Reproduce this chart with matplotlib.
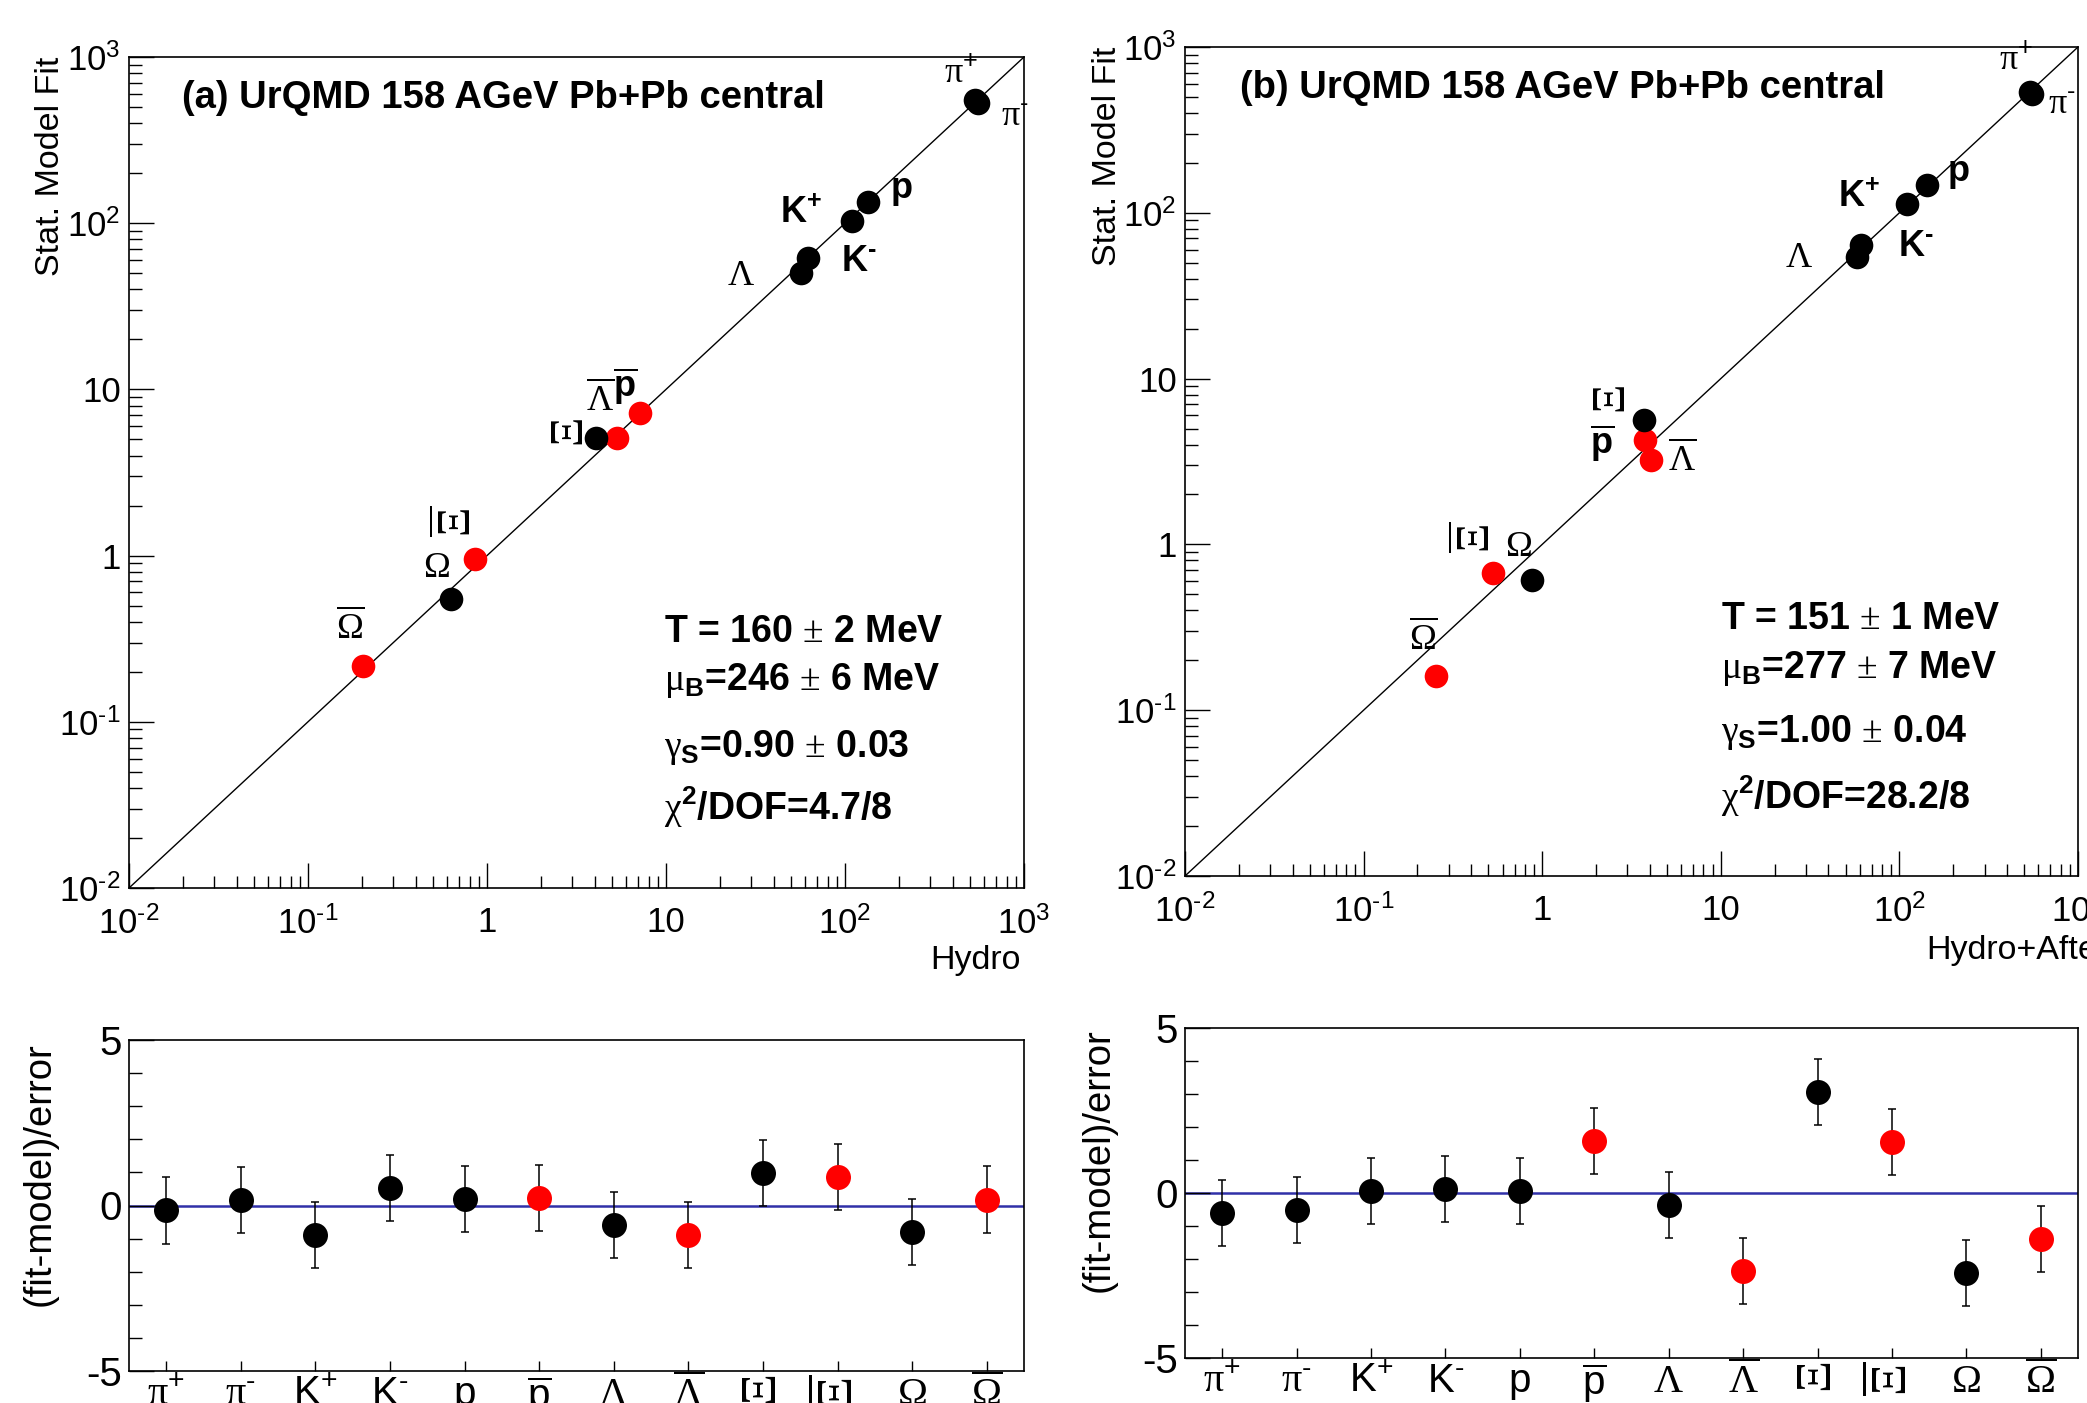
import matplotlib
matplotlib.use('Agg')
import matplotlib.pyplot as plt
from matplotlib import font_manager
from matplotlib.ticker import LogLocator, NullFormatter, MultipleLocator

# ── Fonts ──────────────────────────────────────────────────────
installed = {f.name for f in font_manager.fontManager.ttflist}
NARROW = 'Liberation Sans Narrow' if 'Liberation Sans Narrow' in installed else 'Liberation Sans'
plt.rcParams['font.family'] = 'Liberation Sans'
plt.rcParams['mathtext.fontset'] = 'custom'
plt.rcParams['mathtext.rm'] = 'Liberation Serif'
plt.rcParams['mathtext.it'] = 'Liberation Serif:italic'
plt.rcParams['mathtext.bf'] = 'Liberation Sans:bold'
plt.rcParams['mathtext.sf'] = 'Liberation Sans'
plt.rcParams['mathtext.default'] = 'regular'

HY = '\u2010'  # short dash used by ROOT for "minus" superscripts

# ── Data ───────────────────────────────────────────────────────
# order: pi+, pi-, K+, K-, p, pbar, Lambda, Lambdabar, Xi, Xibar, Omega, Omegabar
IS_ANTI = [False, False, False, False, False, True, False, True, False, True, False, True]

# (a) Hydro vs stat. model fit
HYDRO_A = [535, 552, 109, 62, 134, 7.13, 57, 5.3, 4.09, 0.859, 0.63, 0.202]
FIT_A = [548, 530, 103, 62, 135, 7.21, 50, 5.1, 5.1, 0.954, 0.548, 0.218]
# (b) Hydro+Afterburner vs stat. model fit
HYDRO_B = [538, 555, 110, 61, 143, 3.74, 58, 4.06, 3.72, 0.53, 0.877, 0.254]
FIT_B = [535, 520, 113, 64, 147, 4.26, 54, 3.23, 5.62, 0.672, 0.61, 0.161]

# residuals (fit-model)/error
RESID_A = [-0.15, 0.17, -0.90, 0.54, 0.19, 0.23, -0.60, -0.89, 0.97, 0.87, -0.80, 0.18]
RESID_B = [-0.61, -0.51, 0.05, 0.12, 0.05, 1.57, -0.37, -2.35, 3.07, 1.54, -2.41, -1.38]
RESID_ERR_A = [1.0, 1.0, 1.0, 1.0, 1.0, 1.0, 1.0, 1.0, 1.0, 1.0, 1.0, 1.0]
RESID_ERR_B = [1.0, 1.0, 1.0, 1.0, 1.0, 1.0, 1.0, 1.0, 1.0, 1.0, 1.0, 1.0]

CAT_LABELS = [r'$\mathrm{\pi}^{+}$', r'$\mathrm{\pi}^{' + HY + '}$', r'$K^{+}$', r'$K^{' + HY + '}$', 'p',
              r'$\overline{p}$', r'$\mathrm{\Lambda}$', r'$\overline{\mathrm{\Lambda}}$',
              r'$\mathrm{\Xi}$', r'$\overline{\mathrm{\Xi}}$', r'$\mathrm{\Omega}$',
              r'$\overline{\mathrm{\Omega}}$']

DECADES = [1e-2, 1e-1, 1, 10, 1e2, 1e3]
DECADE_LABELS = [r'$10^{' + HY + '2}$', r'$10^{' + HY + '1}$', '1', '10', r'$10^{2}$', r'$10^{3}$']

FIT_TEXT_A = [r'T = 160 $\mathrm{\pm}$ 2 MeV', r'$\mathrm{\mu}_{B}$=246 $\mathrm{\pm}$ 6 MeV',
              r'$\mathrm{\gamma}_{S}$=0.90 $\mathrm{\pm}$ 0.03', r'$\mathrm{\chi}^{2}$/DOF=4.7/8']
FIT_TEXT_B = [r'T = 151 $\mathrm{\pm}$ 1 MeV', r'$\mathrm{\mu}_{B}$=277 $\mathrm{\pm}$ 7 MeV',
              r'$\mathrm{\gamma}_{S}$=1.00 $\mathrm{\pm}$ 0.04', r'$\mathrm{\chi}^{2}$/DOF=28.2/8']

# particle labels next to the points: (text, x, y, bold, rotation)
LABELS_A = [
    (r'$\mathrm{\pi}^{+}$', 446, 802, False, 0), (r'$\mathrm{\pi}^{' + HY + '}$', 887, 436, False, 0),
    (r'$p$', 206, 158, True, 0), (r'$K^{+}$', 56.7, 115, True, 0),
    (r'$K^{' + HY + '}$', 119, 59, True, 0), (r'$\mathrm{\Lambda}$', 26.2, 48.5, False, 0),
    (r'$\mathrm{\Xi}$', 2.95, 5.5, False, 90), (r'$\overline{\mathrm{\Lambda}}$', 4.31, 8.6, False, 0),
    (r'$\overline{p}$', 5.9, 10.5, True, 0), (r'$\mathrm{\Omega}$', 0.52, 0.85, False, 0),
    (r'$\overline{\mathrm{\Xi}}$', 0.70, 1.6, False, 90), (r'$\overline{\mathrm{\Omega}}$', 0.173, 0.366, False, 0),
]
LABELS_B = [
    (r'$\mathrm{\pi}^{+}$', 447, 832, False, 0), (r'$\mathrm{\pi}^{' + HY + '}$', 815, 452, False, 0),
    (r'$p$', 214, 173, True, 0), (r'$K^{+}$', 59.2, 124, True, 0),
    (r'$K^{' + HY + '}$', 124, 62.5, True, 0), (r'$\mathrm{\Lambda}$', 27.4, 54, False, 0),
    (r'$\mathrm{\Xi}$', 2.49, 7.47, False, 90), (r'$\overline{p}$', 2.17, 4.06, True, 0),
    (r'$\overline{\mathrm{\Lambda}}$', 6.07, 3.25, False, 0), (r'$\overline{\mathrm{\Xi}}$', 0.434, 1.11, False, 90),
    (r'$\mathrm{\Omega}$', 0.738, 0.977, False, 0), (r'$\overline{\mathrm{\Omega}}$', 0.215, 0.269, False, 0),
]

# ── Layout ─────────────────────────────────────────────────────
W, H = 2087, 1403
fig = plt.figure(figsize=(W / 100, H / 100), dpi=100)


def box(x0, y0, x1, y1):
    """pixel box (top-left origin) -> figure fraction rect"""
    return [x0 / W, 1 - y1 / H, (x1 - x0) / W, (y1 - y0) / H]


def fpos(x, y):
    return x / W, 1 - y / H


colors = ['#ff0000' if a else '#000000' for a in IS_ANTI]


def style_frame(ax):
    for sp in ax.spines.values():
        sp.set_linewidth(1.2)
        sp.set_color('black')


def scatter_panel(rect, hydro, fit, labels, title, title_x, fit_text, text_x, text_ys):
    ax = fig.add_axes(rect)
    ax.set_xscale('log')
    ax.set_yscale('log')
    ax.set_xlim(1e-2, 1e3)
    ax.set_ylim(1e-2, 1e3)
    ax.plot([1e-2, 1e3], [1e-2, 1e3], color='black', lw=1.0, zorder=1)
    for xv, yv, c in zip(hydro, fit, colors):
        ax.plot(xv, yv, 'o', color=c, ms=17, mec='none', zorder=3)
    ax.set_xticks(DECADES)
    ax.set_xticklabels(DECADE_LABELS, fontsize=25, family=NARROW)
    ax.set_yticks(DECADES)
    ax.set_yticklabels(DECADE_LABELS, fontsize=25, family=NARROW)
    for axis in (ax.xaxis, ax.yaxis):
        axis.set_minor_locator(LogLocator(base=10, subs=range(2, 10), numticks=20))
        axis.set_minor_formatter(NullFormatter())
    ax.tick_params(which='major', direction='in', length=18, width=1.0,
                   top=False, right=False)
    ax.tick_params(axis='x', which='major', pad=13)
    ax.tick_params(axis='y', which='major', pad=6)
    ax.tick_params(which='minor', direction='in', length=9, width=1.0,
                   top=False, right=False)
    style_frame(ax)
    ax.text(title_x, 0.951, title, transform=ax.transAxes, fontsize=27.5,
            fontweight='bold', ha='left', va='center')
    for txt, xv, yv, bold, rot in labels:
        size = 33 if rot else 26
        ax.text(xv, yv, txt, fontsize=size, fontweight='bold' if bold else 'normal',
                rotation=rot, ha='center', va='center', zorder=4)
    for line, ty in zip(fit_text, text_ys):
        fig.text(*fpos(text_x, ty), line, fontsize=27, fontweight='bold',
                 ha='left', va='baseline')
    return ax


def resid_panel(rect, resid, err):
    ax = fig.add_axes(rect)
    pos = list(range(len(resid)))
    ax.set_xlim(-0.5, len(resid) - 0.5)
    ax.set_ylim(-5, 5)
    ax.axhline(0, color='#3030a8', lw=1.8, zorder=1)
    for xv, yv, e, c in zip(pos, resid, err, colors):
        ax.errorbar(xv, yv, yerr=e, fmt='o', color=c, ms=18, mec='none',
                    ecolor='black', elinewidth=1.1, capsize=3, capthick=1.1, zorder=3)
    ax.set_xticks(pos)
    ax.set_xticklabels(CAT_LABELS, fontsize=29, family=NARROW)
    for i, lab in enumerate(ax.get_xticklabels()):
        if i in (8, 9):
            lab.set_rotation(90)
            lab.set_fontsize(36)
    ax.set_yticks([-5, 0, 5])
    ax.set_yticklabels(['-5', '0', '5'], fontsize=29, family=NARROW)
    ax.yaxis.set_minor_locator(MultipleLocator(1))
    ax.tick_params(axis='y', which='major', direction='in', length=18, width=1.0,
                   right=False, pad=5)
    ax.tick_params(axis='y', which='minor', direction='in', length=9, width=1.0,
                   right=False)
    ax.tick_params(axis='x', which='major', direction='in', length=7, width=1.0,
                   top=False, pad=3)
    style_frame(ax)
    return ax


scatter_panel(box(129, 57, 1024, 888), HYDRO_A, FIT_A, LABELS_A,
              '(a) UrQMD 158 AGeV Pb+Pb central', 0.059, FIT_TEXT_A, 664, [642, 690, 757, 820])
scatter_panel(box(1185, 47, 2078, 876), HYDRO_B, FIT_B, LABELS_B,
              '(b) UrQMD 158 AGeV Pb+Pb central', 0.062, FIT_TEXT_B, 1721, [629, 678, 742, 809])
resid_panel(box(129, 1040, 1024, 1371), RESID_A, RESID_ERR_A)
resid_panel(box(1185, 1028, 2078, 1358), RESID_B, RESID_ERR_B)

# axis titles (ROOT style: aligned to the axis end)
fig.text(*fpos(51, 57), 'Stat. Model Fit', rotation=90, fontsize=24.5, ha='center', va='top')
fig.text(*fpos(1107, 47), 'Stat. Model Fit', rotation=90, fontsize=24.5, ha='center', va='top')
fig.text(*fpos(1021, 961), 'Hydro', fontsize=24.5, ha='right', va='center')
fig.text(*fpos(1926, 950), 'Hydro+Afterburner', fontsize=24.5, ha='left', va='center')
fig.text(*fpos(40, 1042), '(fit-model)/error', rotation=90, fontsize=27.5, ha='center', va='top')
fig.text(*fpos(1099, 1028), '(fit-model)/error', rotation=90, fontsize=27.5, ha='center', va='top')

fig.savefig('out.png', dpi=100, facecolor='white')
